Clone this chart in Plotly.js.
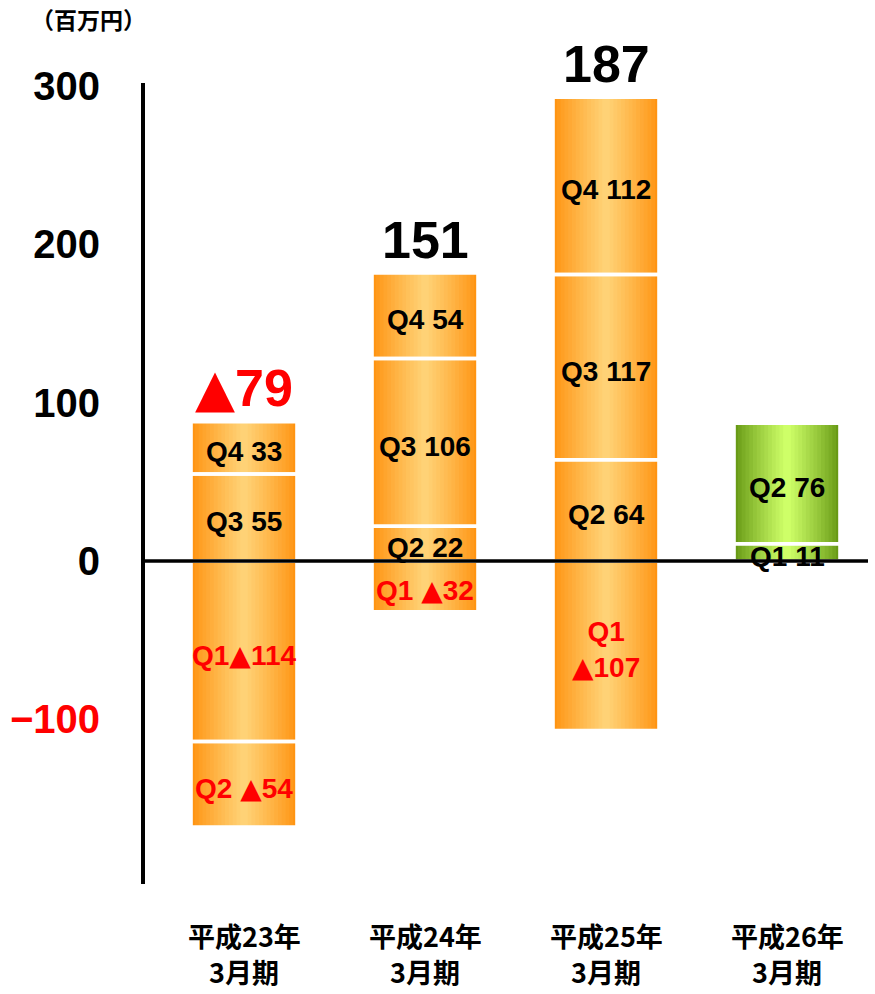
<!DOCTYPE html>
<html><head><meta charset="utf-8">
<script src="https://cdn.plot.ly/plotly-3.0.1.min.js"></script>
<style>html,body{margin:0;padding:0;background:#fff}#chart{width:875px;height:994px}</style>
</head><body><div id="chart"></div>
<script>
// ---- data ----
const categories = ['平成23年3月期', '平成24年3月期', '平成25年3月期', '平成26年3月期'];
const catLine1 = ['平成23年', '平成24年', '平成25年', '平成26年'];
const catLine2 = ['3月期', '3月期', '3月期', '3月期'];
const quarters = ['Q1', 'Q2', 'Q3', 'Q4'];
const q1 = [-114, -32, -107, 11];
const q2 = [-54, 22, 64, 76];
const q3 = [55, 106, 117, null];
const q4 = [33, 54, 112, null];
const q1Sep = ['', ' ', '<br>', ' '];
const totals = [-79, 151, 187, null];
const barScheme = ['orange', 'orange', 'orange', 'green'];
const yTickVals = [-100, 0, 100, 200, 300];
const yTickText = ['−100', '0', '100', '200', '300'];
const unitLabel = '（百万円）';

// ---- build ----
const numFont = 'Liberation Sans, Arial, sans-serif';
const cjkFont = 'Noto Sans CJK JP, sans-serif';
const RED = '#ff0000';
const TRI = '<span style="font-family:DejaVu Sans">▲</span>';
const palettes = {
  orange: {edge: [255, 148, 18], center: [255, 210, 118]},
  green: {edge: [104, 154, 22], center: [206, 255, 104]}
};
function mix(p, t) {
  const c = p.edge.map((e, k) => Math.round(e + (p.center[k] - e) * t));
  return 'rgb(' + c.join(',') + ')';
}
const series = [q1, q2, q3, q4];
const segs = [];
const posTop = [];
categories.forEach((c, ci) => {
  let pos = 0, neg = 0;
  series.forEach((s, qi) => {
    const v = s[ci];
    if (v == null) return;
    const base = v >= 0 ? pos : neg;
    if (v >= 0) pos += v; else neg += v;
    const sep = qi === 0 ? q1Sep[ci] : ' ';
    const txt = quarters[qi] + sep + (v < 0 ? TRI + Math.abs(v) : String(v));
    segs.push({x: c, y: v, base: base, scheme: barScheme[ci], txt: txt, neg: v < 0});
  });
  posTop.push(pos);
});

const N = 14, W = 0.585;
const traces = [];
for (let i = 0; i < N; i++) {
  const t = Math.pow(i / (N - 1), 0.9);
  traces.push({
    type: 'bar', x: segs.map(s => s.x), y: segs.map(s => s.y), base: segs.map(s => s.base),
    width: W * (1 - i / N),
    marker: {color: segs.map(s => mix(palettes[s.scheme], t)), line: {width: 0}},
    hoverinfo: 'skip', showlegend: false
  });
}
traces.push({
  type: 'bar', x: segs.map(s => s.x), y: segs.map(s => s.y), base: segs.map(s => s.base),
  width: W,
  marker: {color: 'rgba(0,0,0,0)', line: {width: 3.5, color: '#ffffff'}},
  hoverinfo: 'skip', showlegend: false
});

const annotations = [];
segs.forEach(s => {
  annotations.push({
    x: s.x, y: s.base + s.y / 2, xref: 'x', yref: 'y', text: s.txt, showarrow: false,
    yshift: -4, xanchor: 'center', yanchor: 'middle',
    font: {family: numFont, size: 28, weight: 'bold', color: s.neg ? RED : '#000'}
  });
});
totals.forEach((v, ci) => {
  if (v == null) return;
  annotations.push({
    x: categories[ci], y: posTop[ci], xref: 'x', yref: 'y',
    text: v < 0 ? TRI + Math.abs(v) : String(v), showarrow: false,
    xanchor: 'center', yanchor: 'bottom', yshift: 2,
    font: {family: numFont, size: 52, weight: 'bold', color: v < 0 ? RED : '#000'}
  });
});
categories.forEach((c, ci) => {
  annotations.push({x: c, y: -0.0637, xref: 'x', yref: 'paper', text: catLine1[ci], showarrow: false,
    xanchor: 'center', yanchor: 'middle', font: {family: cjkFont, size: 27, weight: 'bold', color: '#000'}});
  annotations.push({x: c, y: -0.1087, xref: 'x', yref: 'paper', text: catLine2[ci], showarrow: false,
    xanchor: 'center', yanchor: 'middle', font: {family: cjkFont, size: 27, weight: 'bold', color: '#000'}});
});
annotations.push({x: -0.0775, y: 1.0799, xref: 'paper', yref: 'paper', text: unitLabel, showarrow: false,
  xanchor: 'center', yanchor: 'middle', font: {family: cjkFont, size: 23, weight: 'bold', color: '#000'}});

const layout = {
  width: 875, height: 994,
  margin: {l: 145, r: 7, t: 83, b: 110},
  paper_bgcolor: '#ffffff', plot_bgcolor: '#ffffff',
  barmode: 'overlay', showlegend: false,
  xaxis: {type: 'category', categoryarray: categories, categoryorder: 'array', range: [-0.547, 3.4475],
    showline: false, showticklabels: false, ticks: '', showgrid: false, zeroline: false, fixedrange: true},
  yaxis: {range: [-204, 302], showline: true, linewidth: 4, linecolor: '#000', ticks: '',
    tickmode: 'array', tickvals: yTickVals,
    ticktext: yTickText.map((t, i) => yTickVals[i] < 0 ? '<span style="color:' + RED + '">' + t + '</span>' : t),
    tickfont: {family: numFont, size: 40, weight: 'bold', color: '#000'},
    ticklabelstandoff: 33, showgrid: false, zeroline: false, fixedrange: true},
  shapes: [{type: 'line', xref: 'paper', x0: 0, x1: 1, yref: 'y', y0: 0, y1: 0,
    line: {color: '#000', width: 3.5}, layer: 'above'}],
  annotations: annotations
};
Plotly.newPlot('chart', traces, layout, {displayModeBar: false, staticPlot: true});
</script>
</body></html>
